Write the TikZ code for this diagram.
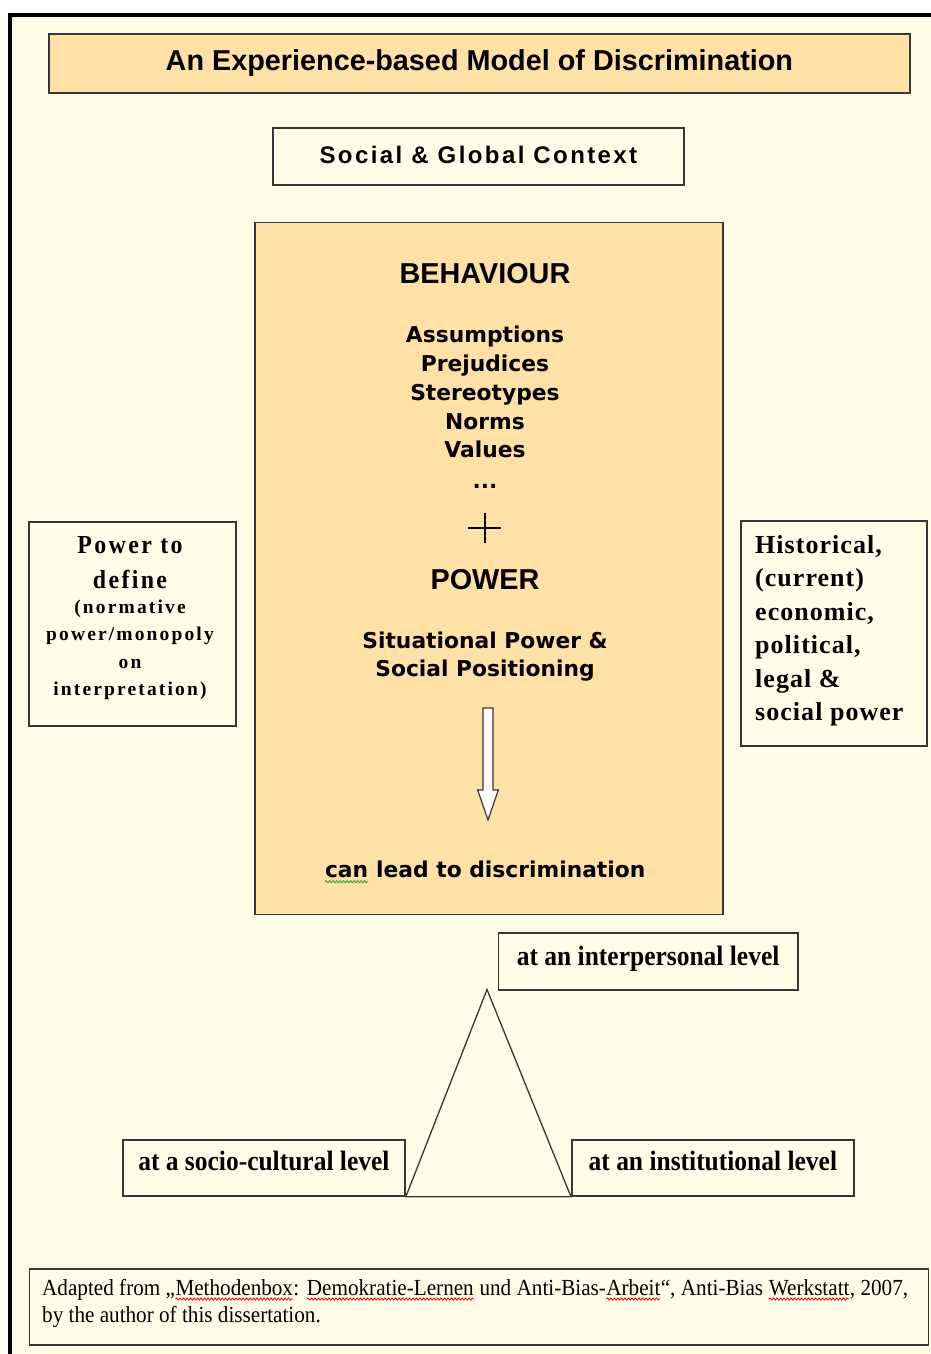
\documentclass[tikz,border=0pt]{standalone}
\usepackage{fontspec}
\usetikzlibrary{decorations.pathmorphing}
\setmainfont{Liberation Serif}
\newfontfamily\arfont{Liberation Sans}
\newfontfamily\arlsfont{Liberation Sans}[LetterSpace=10]
\newfontfamily\vefont{DejaVu Sans}
\newfontfamily\tmA{Liberation Serif}[LetterSpace=9,FakeStretch=0.92]
\newfontfamily\tmB{Liberation Serif}[LetterSpace=11]
\newfontfamily\tmC{Liberation Serif}[LetterSpace=4]
\newfontfamily\tmD{Liberation Serif}[FakeStretch=0.91]
\newfontfamily\tmE{Liberation Serif}[FakeStretch=0.92]
\newcommand\fsz[1]{\fontsize{#1}{#1}\selectfont}
\newcommand\wavecol[2]{\tikz[baseline=(wv.base)]{\node[inner sep=0pt,outer sep=0pt,anchor=base] (wv) {#2};
  \draw[#1,line width=0.8pt,decorate,decoration={snake,amplitude=1.1pt,segment length=3.5pt}]
   ([yshift=-4pt]wv.base west) -- ([yshift=-4pt]wv.base east);}}
\definecolor{cream}{RGB}{255,253,231}
\definecolor{peach}{RGB}{255,224,166}
\definecolor{edge}{RGB}{55,55,55}
\definecolor{spellgreen}{RGB}{60,150,60}
\begin{document}
\begin{tikzpicture}[x=1pt,y=-1pt,
  box/.style={draw=edge,line width=1.8pt,inner sep=0pt},
  txt/.style={inner sep=0pt,anchor=base},
  txtl/.style={inner sep=0pt,anchor=base west},
  headfont/.style={font={\arfont\bfseries\fsz{28.8}}},
  listfont/.style={font={\vefont\bfseries\fsz{21.8}}},
  bigserif/.style={font={\tmA\bfseries\fsz{26}}},
  smallserif/.style={font={\tmB\bfseries\fsz{19.5}}},
  rightserif/.style={font={\tmC\bfseries\fsz{26}}},
  levelfont/.style={font={\tmD\bfseries\fsz{28}}},
  footfont/.style={font={\tmE\fsz{23}}},
  thinline/.style={draw=edge,line width=1.3pt}
]
\useasboundingbox (0,0) rectangle (931,1354);
% page and frame
\fill[white] (0,0) rectangle (931,1354);
\fill[cream] (9.5,14.8) rectangle (931,1354);
\draw[black,line width=4pt] (9.5,1354) -- (9.5,14.8) -- (931,14.8);

% title
\node[box,fill=peach,minimum width=861pt,text height=37pt,text depth=22pt,
      anchor=north west,headfont] (title) at (48,33)
      {An Experience-based Model of Discrimination};
% context
\node[box,fill=cream,minimum width=411pt,text height=35.3pt,text depth=21.7pt,
      anchor=north west,font={\arlsfont\bfseries\fsz{24}}] (context) at (272,127)
      {Social \& Global Context};

% main box
\node[box,fill=peach,minimum width=468pt,minimum height=692pt,anchor=north west] (main) at (254,221.5) {};
\node[txt,headfont] (beh) at (485,283.3) {BEHAVIOUR};
\node[txt,listfont] (l1) at (485,342.7) {Assumptions};
\node[txt,listfont] (l2) at (485,371.5) {Prejudices};
\node[txt,listfont] (l3) at (485,400.3) {Stereotypes};
\node[txt,listfont] (l4) at (485,429) {Norms};
\node[txt,listfont] (l5) at (485,457.7) {Values};
\node[txt,listfont] (l6) at (485,488) {...};
\coordinate (plusc) at (484.5,528);
\draw[black,line width=2pt] ([xshift=-16.5pt]plusc) -- ([xshift=16.5pt]plusc);
\draw[black,line width=2pt] ([yshift=15pt]plusc) -- ([yshift=-15pt]plusc);
\node[txt,headfont] (pow) at (485,589.3) {POWER};
\node[txt,listfont] (s1) at (485,648.3) {Situational Power \&};
\node[txt,listfont] (s2) at (485,676.7) {Social Positioning};
% hollow arrow
\draw[draw=edge,line width=1.2pt,fill=white,line join=miter]
  (483,708) -- (493,708) -- (493,790) -- (498.3,790) -- (488,820)
  -- (477.7,790) -- (483,790) -- cycle;
\node[txt,listfont] (lead) at (485,877.7) {\wavecol{spellgreen}{can} lead to discrimination};

% left box
\node[box,fill=cream,minimum width=207pt,minimum height=204.5pt,anchor=north west] (defbox) at (28,520.7) {};
\node[txt,bigserif] (d1) at (130,553.3) {Power to};
\node[txt,bigserif] (d2) at (130,588.3) {define};
\node[txt,smallserif] (d3) at (130,613.5) {(normative};
\node[txt,smallserif] (d4) at (130,640.5) {power/monopoly};
\node[txt,smallserif] (d5) at (130,668) {on};
\node[txt,smallserif] (d6) at (130,695.5) {interpretation)};

% right box
\node[box,fill=cream,minimum width=186pt,minimum height=225pt,anchor=north west] (histbox) at (740,520.3) {};
\node[txtl,rightserif] (h1) at (755,553.3) {Historical,};
\node[txtl,rightserif] (h2) at (755,586.7) {(current)};
\node[txtl,rightserif] (h3) at (755,620) {economic,};
\node[txtl,rightserif] (h4) at (755,653.5) {political,};
\node[txtl,rightserif] (h5) at (755,687) {legal \&};
\node[txtl,rightserif] (h6) at (755,720.5) {social power};

% level boxes
\node[box,fill=cream,minimum width=299.5pt,text height=32.6pt,text depth=25pt,
      anchor=north west,levelfont] (interp) at (497.5,931.7) {at an interpersonal level};
\node[box,fill=cream,minimum width=282pt,text height=31pt,text depth=25pt,
      anchor=north west,levelfont] (socio) at (122,1139) {at a socio-cultural level};
\node[box,fill=cream,minimum width=282pt,text height=31pt,text depth=25pt,
      anchor=north west,levelfont] (inst) at (571,1139) {at an institutional level};
\coordinate (apex) at (487,989.5);
\draw[thinline,line join=miter] (socio.south east) -- (apex) -- (inst.south west) -- cycle;

% footer
\node[box,fill=cream,minimum width=899pt,minimum height=76pt,anchor=north west] (foot) at (28.5,1268.3) {};
\node[txtl,footfont] (f1) at (42,1295)
  {\hbox to 866pt{Adapted from „\wavecol{red}{Methodenbox}: \wavecol{red}{Demokratie-Lernen} und Anti-Bias-\wavecol{red}{Arbeit}“, Anti-Bias \wavecol{red}{Werkstatt}, 2007,}};
\node[txtl,footfont] (f2) at (42,1322.7) {by the author of this dissertation.};
\end{tikzpicture}
\end{document}
